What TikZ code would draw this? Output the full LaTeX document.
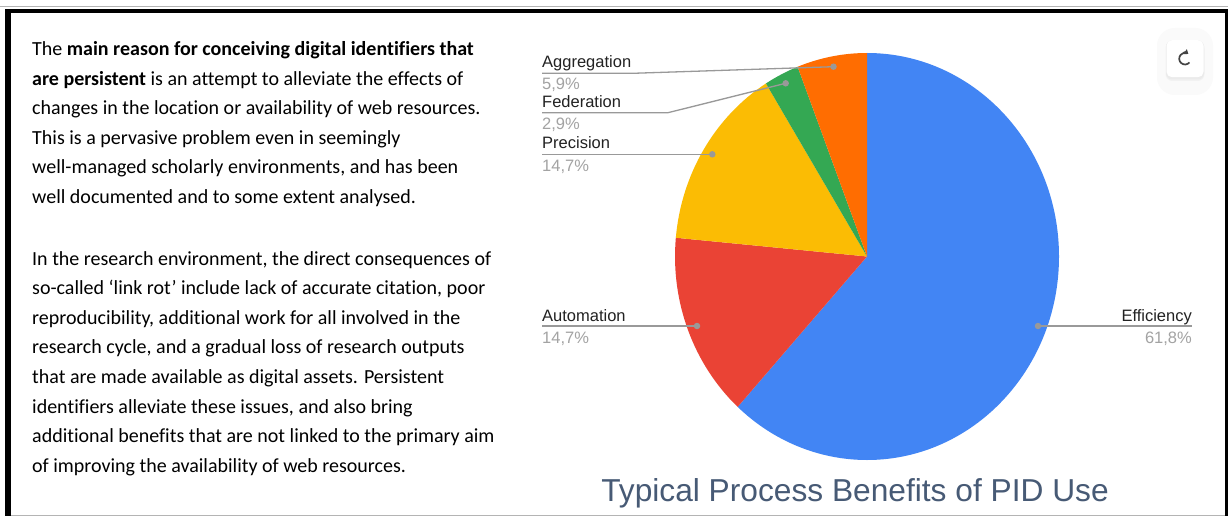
\documentclass[tikz,border=0pt]{standalone}
\usepackage{fontspec}
\setmainfont{Carlito}[Ligatures={NoCommon}]
\newfontfamily\arialfont{Liberation Sans}
\usetikzlibrary{arrows.meta,calc}
\definecolor{gblue}{HTML}{4285F4}
\definecolor{gred}{HTML}{EA4335}
\definecolor{gyellow}{HTML}{FBBC04}
\definecolor{ggreen}{HTML}{34A853}
\definecolor{gorange}{HTML}{FF6D01}
\definecolor{leadgray}{HTML}{999999}
\definecolor{pctgray}{HTML}{A3A3A3}
\definecolor{labelblack}{HTML}{222222}
\definecolor{titlecol}{HTML}{475A75}
\definecolor{iconcol}{HTML}{444444}
\definecolor{framegray}{HTML}{B4B4B4}
\begin{document}
\begin{tikzpicture}[x=1pt,y=-1pt,
  body/.style={anchor=base west, inner sep=0pt, font=\fontsize{20}{24}\selectfont},
  lbl/.style={anchor=base west, inner sep=0pt, font=\arialfont\fontsize{16.5}{18}\selectfont, text=labelblack},
  pct/.style={lbl, text=pctgray},
  lble/.style={lbl, anchor=base east},
  pcte/.style={pct, anchor=base east},
  leader/.style={draw=leadgray, line width=1.3pt},
  dot/.style={circle, fill=leadgray, inner sep=0pt, minimum size=6.5pt},
]
\useasboundingbox (0,0) rectangle (1228,516);
\fill[white] (0,0) rectangle (1228,516);
% frame
\fill[framegray] (0,6.5) rectangle (1228,7.5);
\fill[black] (4.5,9.3) rectangle (1228,13.3);
\fill[black] (4.5,9.3) rectangle (11,516);
\fill[black] (1225.3,9.3) rectangle (1228,516);
\fill[framegray] (11,514.5) rectangle (1225.3,515.6);

% body text
\node[body] (p1a) at (32,55.5) {The \textbf{main reason for conceiving digital identifiers that}};
\node[body] (p1b) at (32,85.1) {\textbf{are persistent} is an attempt to alleviate the effects of};
\node[body] (p1c) at (32,114.7) {changes in the location or availability of web resources.};
\node[body] (p1d) at (32,144.3) {This is a pervasive problem even in seemingly};
\node[body] (p1e) at (32,173.9) {well-managed scholarly environments, and has been};
\node[body] (p1f) at (32,203.5) {well documented and to some extent analysed.};

\node[body] (p2a) at (32,265) {In the research environment, the direct consequences of};
\node[body] (p2b) at (32,294.6) {so-called ‘link rot’ include lack of accurate citation, poor};
\node[body] (p2c) at (32,324.2) {reproducibility, additional work for all involved in the};
\node[body] (p2d) at (32,353.8) {research cycle, and a gradual loss of research outputs};
\node[body] (p2e) at (32,383.4) {that are made available as digital assets. Persistent};
\node[body] (p2f) at (32,413) {identifiers alleviate these issues, and also bring};
\node[body] (p2g) at (32,442.6) {additional benefits that are not linked to the primary aim};
\node[body] (p2h) at (32,472.2) {of improving the availability of web resources.};

% pie
\coordinate (c) at (867,256.5);
\fill[gblue]   (c) -- ++(-90:192 and 203.5) arc[start angle=-90, end angle=132.35, x radius=192, y radius=203.5] -- cycle;
\fill[gred]    (c) -- ++(132.35:192 and 203.5) arc[start angle=132.35, end angle=185.29, x radius=192, y radius=203.5] -- cycle;
\fill[gyellow] (c) -- ++(185.29:192 and 203.5) arc[start angle=185.29, end angle=238.24, x radius=192, y radius=203.5] -- cycle;
\fill[ggreen]  (c) -- ++(238.24:192 and 203.5) arc[start angle=238.24, end angle=248.82, x radius=192, y radius=203.5] -- cycle;
\fill[gorange] (c) -- ++(248.82:192 and 203.5) arc[start angle=248.82, end angle=270, x radius=192, y radius=203.5] -- cycle;

% leader dots
\node[dot] (dagg) at (833.5,66.7) {};
\node[dot] (dfed) at (785.7,83.3) {};
\node[dot] (dpre) at (712.3,154.3) {};
\node[dot] (daut) at (697,326) {};
\node[dot] (deff) at (1038,326) {};

% label texts
\node[lbl] (lagg) at (542,67.5) {Aggregation};
\node[pct] (pagg) at (542,89.5) {5,9\%};
\node[lbl] (lfed) at (542,107.5) {Federation};
\node[pct] (pfed) at (542,129.5) {2,9\%};
\node[lbl] (lpre) at (542,149) {Precision};
\node[pct] (ppre) at (542,171) {14,7\%};
\node[lbl] (laut) at (542,321) {Automation};
\node[pct] (paut) at (542,343) {14,7\%};
\node[lble] (leff) at (1192,321) {Efficiency};
\node[pcte] (peff) at (1192,343) {61,8\%};

% leader lines
\coordinate (uagg0) at (542,73.3); \coordinate (uagg1) at (633,73.3);
\coordinate (ufed0) at (542,112.7); \coordinate (ufed1) at (668,112.7);
\coordinate (upre0) at (542,154.3);
\coordinate (uaut0) at (542,326);
\coordinate (ueff1) at (1192,326);
\draw[leader] (uagg0) -- (uagg1) -- (dagg.center);
\draw[leader] (ufed0) -- (ufed1) -- (dfed.center);
\draw[leader] (upre0) -- (dpre.center);
\draw[leader] (uaut0) -- (daut.center);
\draw[leader] (deff.center) -- (ueff1);

% title
\node[anchor=base, inner sep=0pt, font=\arialfont\fontsize{31.7}{34}\selectfont, text=titlecol] (title) at (855,501.5) {Typical Process Benefits of PID Use};

% refresh button
\fill[black!2, rounded corners=18pt] (1157,28) rectangle (1213,95);
\fill[black!5, rounded corners=7pt] (1165.5,41.5) rectangle (1204.5,81);
\fill[black!8, rounded corners=6pt] (1166,40.5) rectangle (1204,79.5);
\node[fill=white, rounded corners=5.5pt, minimum width=37pt, minimum height=37pt, inner sep=0pt] (btn) at (1185,58.7) {};
\draw[iconcol, line width=1.7pt, -{Triangle[length=4pt,width=6pt]}] ($(btn.center)+(40:5.8)$) arc[start angle=40, end angle=305, radius=5.8];
\end{tikzpicture}
\end{document}
